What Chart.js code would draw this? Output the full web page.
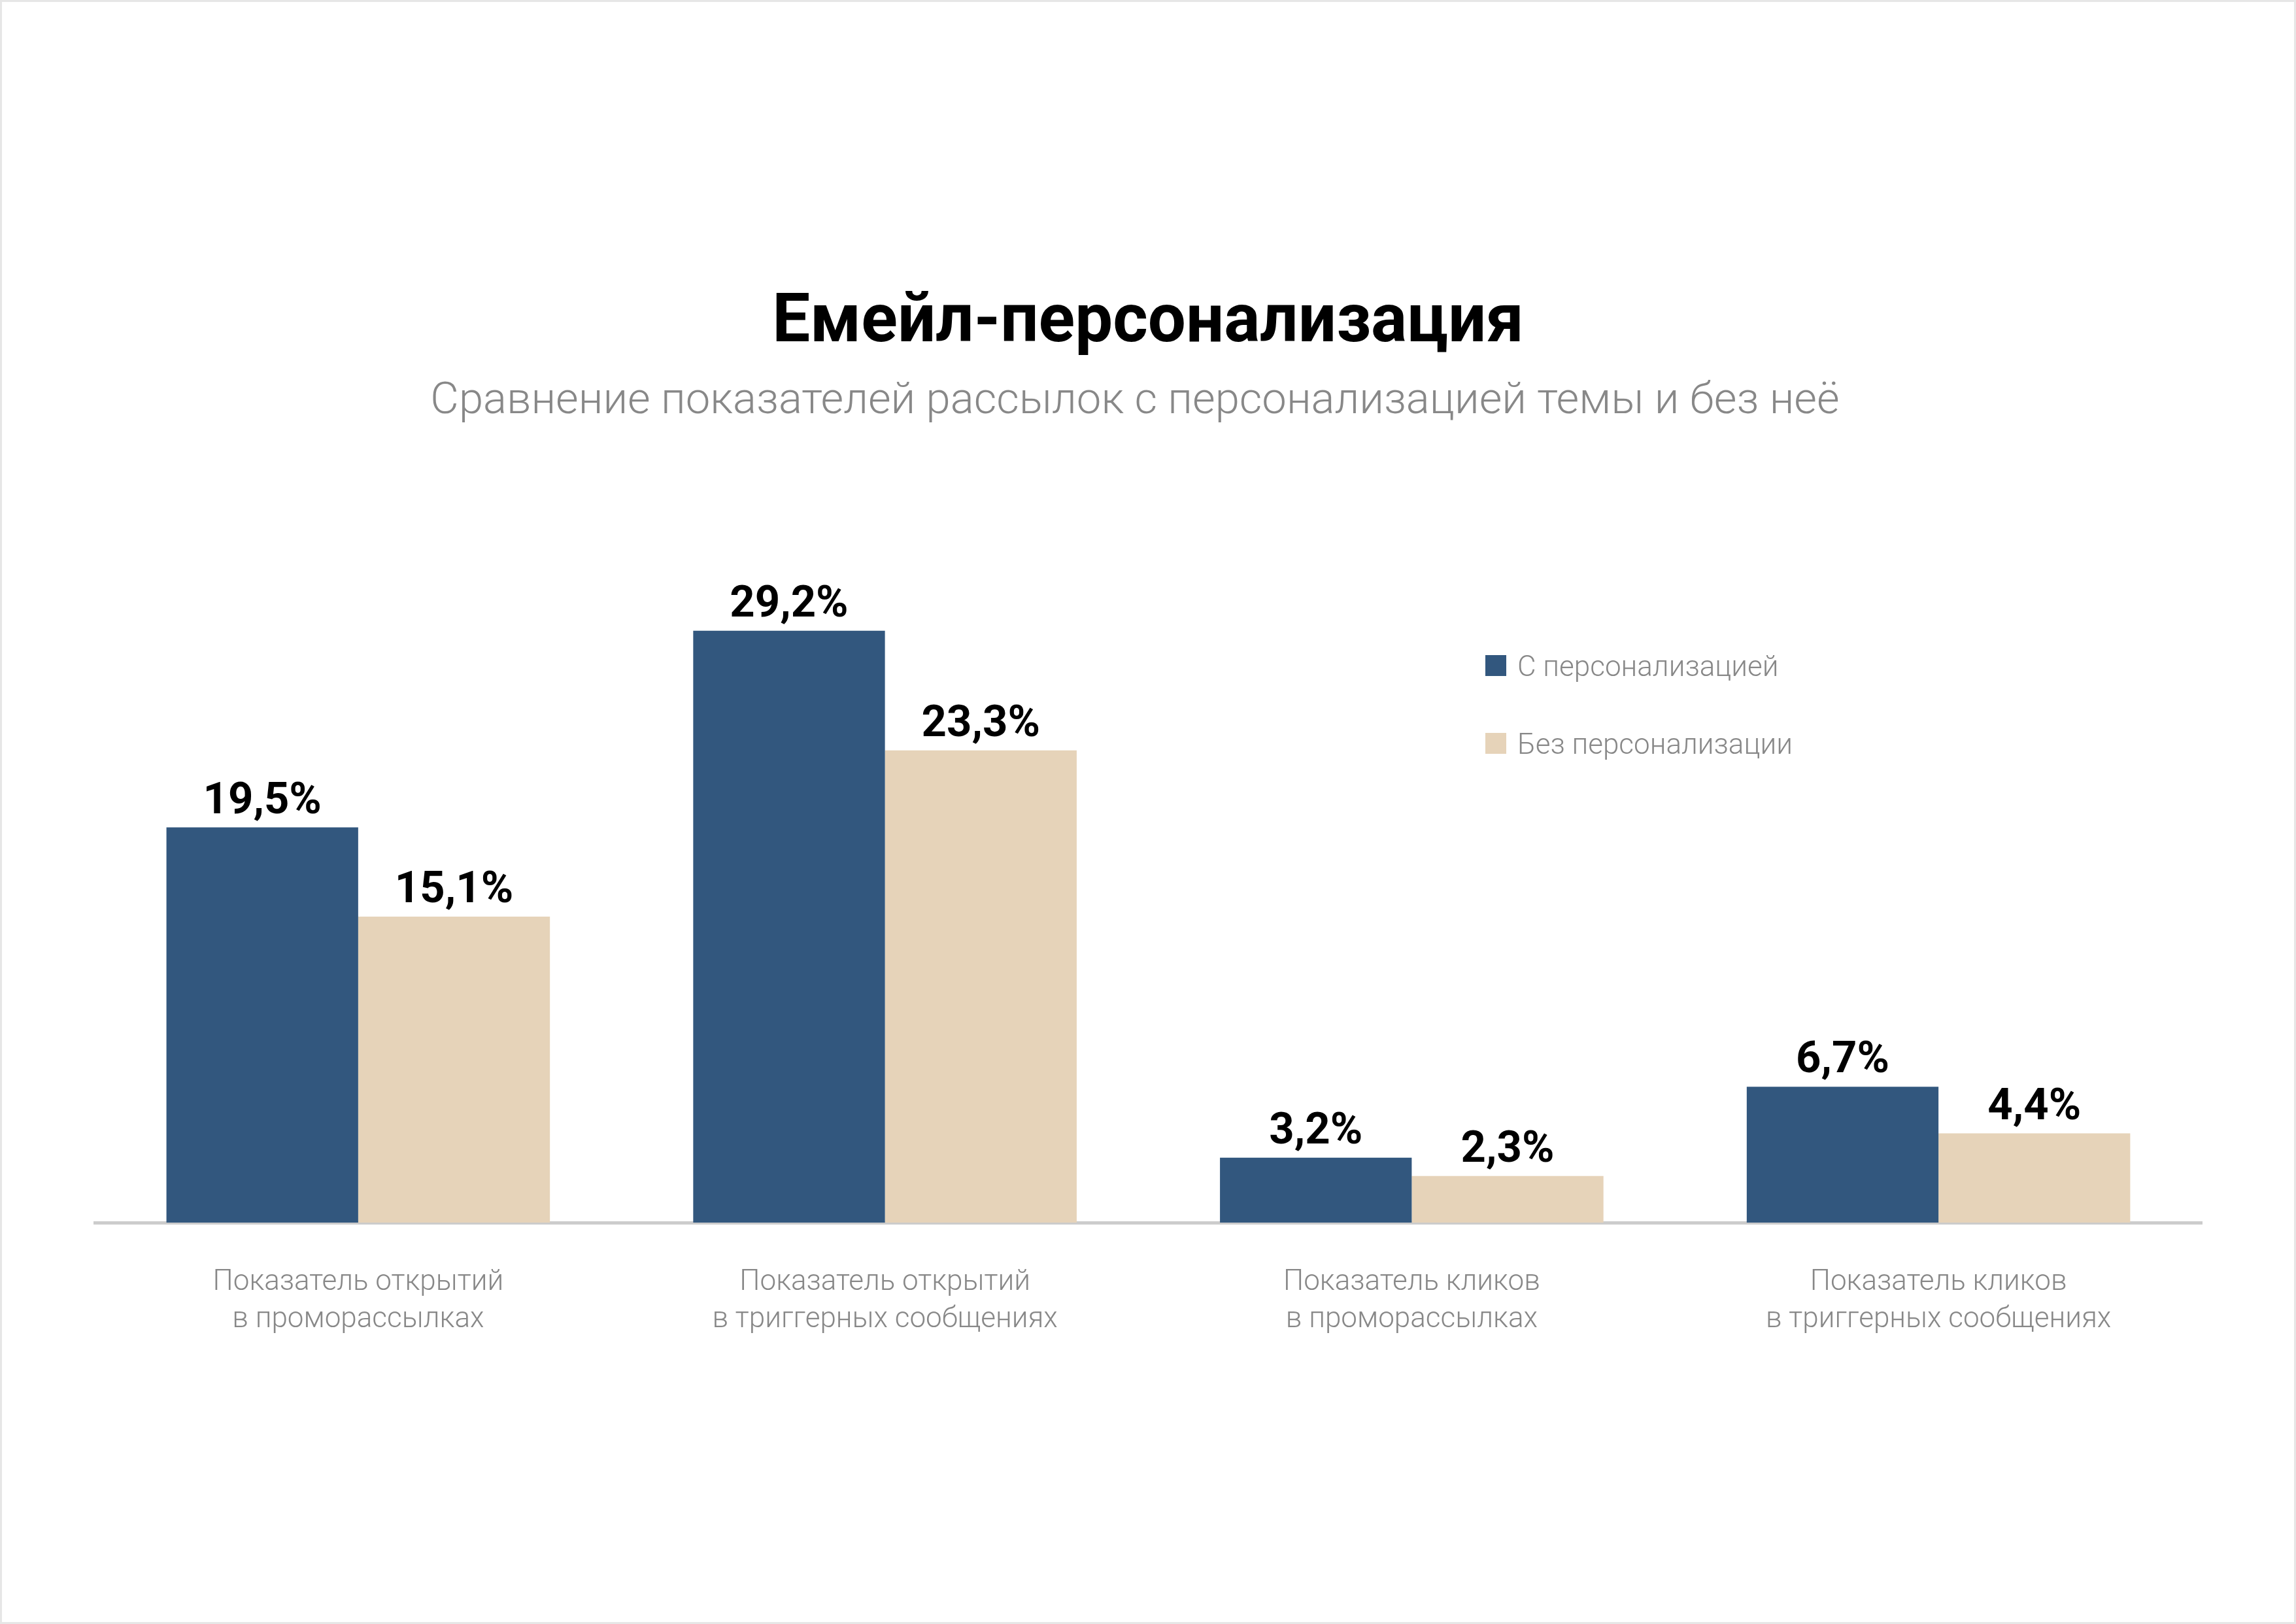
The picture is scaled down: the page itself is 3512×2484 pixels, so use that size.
<!DOCTYPE html>
<html>
<head>
<meta charset="utf-8">
<script src="https://cdn.jsdelivr.net/npm/chart.js@4"></script>
<style>
html,body{margin:0;padding:0;background:#fff;}
canvas{display:block;}
</style>
</head>
<body>
<canvas id="c" width="3512" height="2484"></canvas>
<script>
const titleText = 'Емейл-персонализация';
const subtitleText = 'Сравнение показателей рассылок с персонализацией темы и без неё';
const categories = [
  ['Показатель открытий', 'в проморассылках'],
  ['Показатель открытий', 'в триггерных сообщениях'],
  ['Показатель кликов', 'в проморассылках'],
  ['Показатель кликов', 'в триггерных сообщениях']
];
const seriesNames = ['С персонализацией', 'Без персонализации'];
const withPersonalization = [19.5, 29.2, 3.2, 6.7];
const withoutPersonalization = [15.1, 23.3, 2.3, 4.4];
const seriesColors = ['#32577E', '#E6D3B9'];

const fmt = v => v.toFixed(1).replace('.', ',') + '%';

const decor = {
  id: 'decor',
  beforeDraw(chart) {
    const ctx = chart.ctx;
    ctx.save();
    ctx.fillStyle = '#ffffff';
    ctx.fillRect(0, 0, chart.width, chart.height);
    ctx.strokeStyle = '#e6e6e6';
    ctx.lineWidth = 3;
    ctx.strokeRect(1.5, 1.5, chart.width - 3, chart.height - 3);
    ctx.restore();
  },
  afterDraw(chart) {
    const ctx = chart.ctx;
    ctx.save();
    // title
    ctx.textAlign = 'center';
    ctx.textBaseline = 'alphabetic';
    ctx.fillStyle = '#000000';
    ctx.font = 'bold 103px Roboto';
    ctx.fillText(titleText, 1756, 522);
    ctx.fillStyle = '#888888';
    ctx.font = '300 67px Roboto';
    ctx.fillText(subtitleText, 1736, 632);

    // data labels
    ctx.fillStyle = '#000000';
    ctx.font = 'bold 67px Roboto';
    chart.data.datasets.forEach((ds, di) => {
      const meta = chart.getDatasetMeta(di);
      meta.data.forEach((bar, i) => {
        ctx.fillText(fmt(ds.data[i]), bar.x, bar.y - 22);
      });
    });

    // legend
    ctx.textAlign = 'left';
    ctx.font = '300 44px Roboto';
    chart.data.datasets.forEach((ds, di) => {
      const top = 1002 + di * 119;
      ctx.fillStyle = ds.backgroundColor;
      ctx.fillRect(2272, top, 32, 32);
      ctx.fillStyle = '#888888';
      ctx.fillText(ds.label, 2321, top + 32);
    });
    ctx.restore();
  }
};

new Chart(document.getElementById('c'), {
  type: 'bar',
  data: {
    labels: categories,
    datasets: [
      { label: seriesNames[0], data: withPersonalization, backgroundColor: seriesColors[0] },
      { label: seriesNames[1], data: withoutPersonalization, backgroundColor: seriesColors[1] }
    ]
  },
  options: {
    responsive: false,
    devicePixelRatio: 1,
    animation: false,
    events: [],
    layout: { padding: { left: 145, right: 144, top: 630, bottom: 414 } },
    datasets: { bar: { barPercentage: 1, categoryPercentage: 0.728, borderWidth: 0 } },
    plugins: {
      legend: { display: false },
      title: { display: false },
      tooltip: { enabled: false }
    },
    scales: {
      x: {
        grid: { display: false, drawTicks: false },
        border: { display: true, color: '#cccccc', width: 5 },
        ticks: {
          color: '#888888',
          font: { family: 'Roboto', size: 44, weight: 300, lineHeight: 1.31 },
          padding: 63,
          maxRotation: 0,
          autoSkip: false
        },
        afterFit(scale) { scale.height = 200; }
      },
      y: {
        display: false,
        min: 0,
        max: 40
      }
    }
  },
  plugins: [decor]
});
</script>
</body>
</html>
